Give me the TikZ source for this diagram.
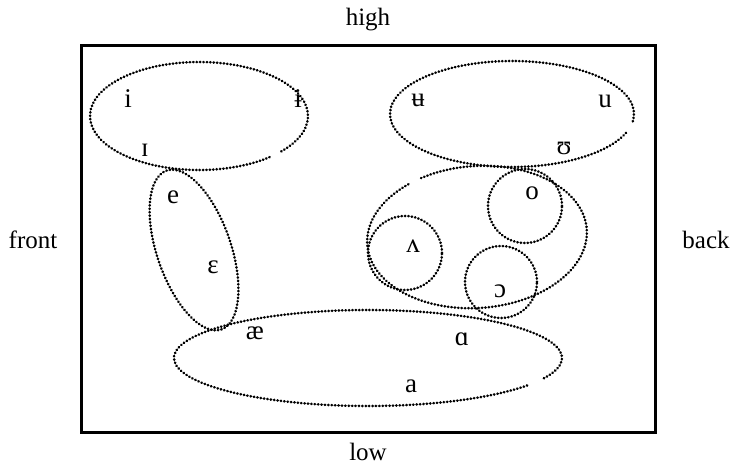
\documentclass[tikz,border=0pt]{standalone}
\usepackage{fontspec}
\setmainfont{Liberation Serif}
\begin{document}
\begin{tikzpicture}[x=1pt,y=1pt,
  dots/.style={line width=2.6pt,line cap=round,dash pattern=on 0.4pt off 3pt},
  lbl/.style={font=\fontsize{25}{28}\selectfont,inner sep=0pt},
  ipa/.style={font=\fontsize{27}{29}\selectfont,inner sep=0pt}]
\useasboundingbox (0,0) rectangle (732,-466);
\draw[line width=3pt] (81,-45) rectangle (655,-432);
\node[lbl] (high) at (368,-20) {high};
\node[lbl] (low) at (368,-452) {low};
\node[lbl] (front) at (33,-240) {front};
\node[lbl] (back) at (706,-240) {back};
% top-left ellipse
\coordinate (c1) at (199,-116);
\draw[dots] ([shift={(-41:109 and 54)}]c1) arc[start angle=-41,end angle=311,x radius=109,y radius=54];
% top-right ellipse
\coordinate (c2) at (512,-114);
\draw[dots] ([shift={(-8:122 and 53)}]c2) arc[start angle=-8,end angle=340,x radius=122,y radius=53];
% e-epsilon ellipse
\draw[dots] (194,-250) ellipse[x radius=84,y radius=37,rotate=-71];
% middle-right ellipse
\coordinate (c4) at (477,-237);
\begin{scope}[rotate around={4:(c4)}]
\draw[dots] ([shift={(126:110 and 71)}]c4) arc[start angle=126,end angle=478,x radius=110,y radius=71];
\end{scope}
% circles
\draw[dots] (405,-253) circle[radius=37];
\draw[dots] (525,-206) circle[radius=37];
\draw[dots] (501,-282) circle[radius=36];
% bottom ellipse
\coordinate (c5) at (368,-358);
\draw[dots] ([shift={(-25:194 and 48)}]c5) arc[start angle=-25,end angle=326,x radius=194,y radius=48];
% symbols
\node[ipa] (i) at (128,-99) {i};
\node[ipa] (ibar) at (298,-99) {ɨ};
\node[ipa] (ismall) at (145,-150) {ɪ};
\node[ipa] (ubar) at (418,-100) {ʉ};
\node[ipa] (u) at (605,-101) {u};
\node[ipa] (usmall) at (564,-148) {ʊ};
\node[ipa] (e) at (173,-197) {e};
\node[ipa] (eps) at (213,-267) {ɛ};
\node[ipa] (ae) at (255,-333) {æ};
\node[ipa] (alpha) at (462,-339) {ɑ};
\node[ipa] (a) at (411,-386) {a};
\node[ipa] (wedge) at (413,-246) {ʌ};
\node[ipa] (o) at (532,-193) {o};
\node[ipa] (oo) at (500,-291) {ɔ};
\end{tikzpicture}
\end{document}
